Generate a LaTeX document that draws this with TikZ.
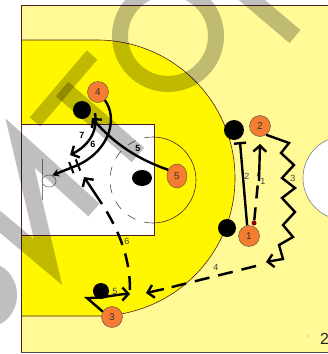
\documentclass[tikz,border=0pt]{standalone}
\usepackage{xcolor}
\usepackage{fontspec}
\setmainfont{Liberation Sans}
\usetikzlibrary{shapes.geometric, arrows.meta}

\definecolor{courtpale}{RGB}{255,250,150}
\definecolor{courtyellow}{RGB}{255,247,0}
\definecolor{courtline}{RGB}{80,30,30}
\definecolor{playerorange}{RGB}{245,125,50}

\begin{document}
\begin{tikzpicture}[
    x=1pt, y=-1pt,
    %% ── Symbol styles ─────────────────────────────────────────
    player/.style={
        circle,
        minimum size=21pt, inner sep=0pt,
        draw=gray!60!black, fill=playerorange,
        font=\fontsize{10}{10}\selectfont, text=black!80
    },
    guard/.style={
        circle,
        minimum size=18pt, inner sep=0pt,
        fill=black
    },
    runlabel/.style={font=\fontsize{9}{9}\selectfont, text=black!75, inner sep=0pt},
    boldlabel/.style={font=\fontsize{9}{9}\selectfont\bfseries, text=black, inner sep=0pt},
    hash/.style={rectangle, sloped, fill=black, minimum width=2pt, minimum height=12pt, inner sep=0pt},
    markstroke/.style={draw=black, opacity=0.25, line cap=butt, miter limit=10},
    arrow/.style={line width=2.4pt, -{Straight Barb[length=6pt, width=13pt]}, draw=black},
    dashline/.style={line width=2.5pt, draw=black, dash pattern=on 15pt off 9pt},
    thinline/.style={line width=0.6pt, draw=courtline}
]
\useasboundingbox (0,0) rectangle (328,354);
\clip (0,0) rectangle (328,354);

%% ── Court ──────────────────────────────────────────────────────
\fill[white] (0,0) rectangle (328,354);
\fill[courtpale] (21,5) rectangle (330,352);
\draw[fill=courtyellow, thinline] (21,40) -- (97,40) arc[start angle=90, end angle=-90, radius=138pt] -- (21,316);
\draw[fill=white, thinline] (21,124) rectangle (154,235);
\draw[thinline] (153,137) arc[start angle=90, end angle=-90, radius=43pt];
\draw[thinline, draw=black!70, dash pattern=on 9pt off 9pt] (153,137) arc[start angle=90, end angle=270, radius=43pt];
\draw[fill=white, draw=gray, line width=0.6pt] (345,178) circle[radius=42pt];
\draw[line width=0.9pt, draw=courtline] (21,5) -- (330,5);
\draw[line width=0.9pt, draw=courtline] (21,5) -- (21,352);
\draw[line width=0.9pt, draw=black!70] (21,352) -- (330,352);
\draw[draw=gray, line width=0.8pt] (42,159) -- (42,200);
\node (hoop) [ellipse, draw=gray, line width=0.7pt, minimum width=14pt, minimum height=12pt, inner sep=0pt] at (49,181) {};

%% ── Watermark ──────────────────────────────────────────────────
\draw[markstroke, line width=14pt] (92,55) -- (35,122);
\draw[markstroke, line width=19pt] (62,89) -- (138,155);
\draw[markstroke, line width=16pt] (168,36) circle[radius=48pt];
\draw[markstroke, line width=17pt] (240,-10) -- (295,36.5);
\draw[markstroke, line width=17pt] (94,210) -- (20,143) -- (48,262) -- (-8,215);
\fill[black, opacity=0.25] (-12,295) ellipse[x radius=29pt, y radius=32pt];

%% ── Nodes ──────────────────────────────────────────────────────
\node (d4) [guard] at (82,110) {};
\node (d5) [guard, ellipse, minimum width=20pt, minimum height=16pt] at (142,178) {};
\node (d2) [guard, minimum size=20pt] at (234,130) {};
\node (d1) [guard] at (227,228) {};
\node (d3) [guard, minimum size=16pt] at (101,291) {};
\node (p4) [player] at (98,92) {4};
\node (p5) [player, ellipse, minimum width=20pt, minimum height=24pt] at (177,176) {5};
\node (p2) [player] at (260,126) {2};
\node (p1) [player] at (249,236) {1};
\node (p3) [player] at (112,317) {3};
\node (reddot) [circle, fill=red!55!black, minimum size=5pt, inner sep=0pt] at (254,223) {};

\coordinate (screen4)  at (95,113);
\coordinate (tip5)     at (92,118);
\coordinate (tip7)     at (70,155);
\coordinate (bend6)    at (78,165);
\coordinate (bar2)     at (240,142);
\coordinate (mid1)     at (259,172);
\coordinate (tip1)     at (260,144);
\coordinate (tip3)     at (266,262);
\coordinate (start4)   at (256,266);
\coordinate (mid4)     at (164,289);
\coordinate (tip4)     at (146,293);
\coordinate (start6)   at (130,290);
\coordinate (mid6)     at (102,204);
\coordinate (tip6)     at (84,177);
\coordinate (bend5)    at (87,298);
\coordinate (tip5b)    at (130,294);

%% ── Flow arrows ────────────────────────────────────────────────
\draw [line width=2.4pt, -{Bar[width=12pt]}] (p1.100) -- (bar2);
\draw [dashline, dash pattern=on 13pt off 9pt] (reddot) -- (mid1);
\draw [arrow] ([yshift=-9pt]mid1) -- (tip1);
\draw [arrow] (p2.-55) -- (289,143) -- (281,153) -- (294,165) -- (282,178) -- (295,188)
    -- (282,198) -- (295,212) -- (283,225) -- (293,237) -- (279,245) -- (283,259) -- (tip3);
\draw [dashline] (start4) -- (mid4);
\draw [arrow] (mid4) -- (tip4);
\draw [dashline, dash pattern=on 14pt off 9pt] (start6) .. controls (130,262) and (122,235) .. (mid6);
\draw [arrow] (mid6) -- (tip6);
\draw [arrow] (p3.150) -- (bend5) .. controls (105,298) and (118,294) .. (tip5b);
\draw [arrow] (p5.145) .. controls (140,160) and (115,145) .. (tip5);
\draw [arrow] (screen4) .. controls (98,130) and (90,145) .. (tip7);
\draw [arrow, -{Stealth[length=7pt, width=8pt]}] (p4.-50) .. controls (118,118) and (110,150) .. (bend6)
    -- node[pos=0, hash] {} node[pos=.26, hash] {} (hoop.60);

%% ── Labels ─────────────────────────────────────────────────────
\node (l1) [runlabel] at (263,181) {1};
\node (l2) [runlabel] at (247,176) {2};
\node (l3) [runlabel] at (293,178) {3};
\node (l4) [runlabel] at (216,267) {4};
\node (l5) [boldlabel] at (138,148) {5};
\node (l5b) [runlabel] at (115,291) {5};
\node (l6) [boldlabel] at (93,144) {6};
\node (l6b) [runlabel] at (127,241) {6};
\node (l7) [boldlabel] at (82,135) {7};
\node (pagedot) [circle, fill=gray, minimum size=1.2pt, inner sep=0pt] at (308,336) {};
\node (pagenum) [anchor=west, inner sep=0pt, font=\fontsize{16}{16}\selectfont, text=black!85] at (320,339) {2};

\end{tikzpicture}
\end{document}
